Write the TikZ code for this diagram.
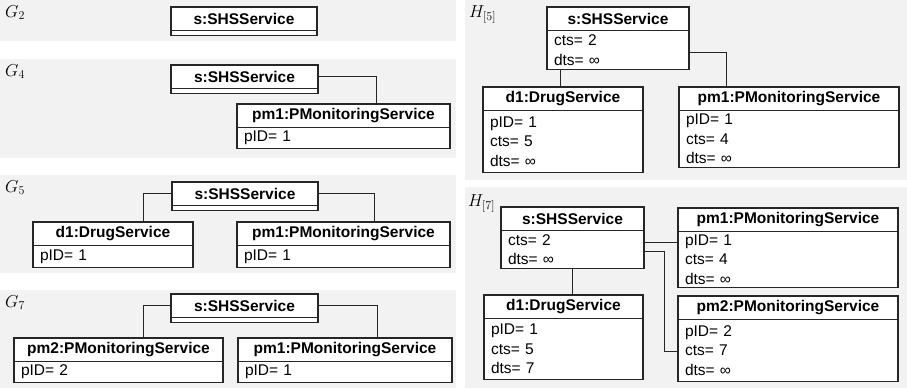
\documentclass[tikz,border=0pt]{standalone}
\usepackage{fontspec}
\setmainfont{Liberation Sans}
\definecolor{panelgray}{HTML}{F2F2F2}
\definecolor{linec}{HTML}{262626}
\tikzset{
  panel/.style={fill=panelgray, draw=none},
  objtitle/.style={draw=linec, fill=white, line width=1.1pt,
    font=\fontsize{15.5}{19.5}\selectfont\bfseries, minimum height=23.5pt,
    inner sep=0pt, outer sep=0pt, anchor=north west},
  objattr/.style={draw=linec, fill=white, line width=1.1pt,
    font=\fontsize{15.5}{19.5}\selectfont, inner xsep=7pt, inner ysep=0pt,
    outer sep=0pt, align=left, anchor=north west},
  conn/.style={draw=linec, line width=1pt},
  lbl/.style={anchor=north west, inner sep=0pt, font=\fontsize{17.28}{20}\selectfont}
}
% name, x, y, width, title, attr height, attrs
\newcommand\umlobj[7]{%
  \node[objtitle, minimum width=#4pt] (#1) at (#2,#3) {#5};
  \node[objattr, minimum width=#4pt, minimum height=#6pt, text width={\dimexpr #4pt-14pt\relax}] (#1-a) at (#1.south west) {#7};
}
\begin{document}
\begin{tikzpicture}[x=1pt,y=-1pt]
\useasboundingbox (0,0) rectangle (907,390);
% panels
\fill[panel] (0,0) rectangle (456,41);
\fill[panel] (0,59) rectangle (456,158);
\fill[panel] (0,175) rectangle (456,273);
\fill[panel] (0,290) rectangle (456,388);
\fill[panel] (465,0) rectangle (907,180);
\fill[panel] (465,187) rectangle (907,388);
% labels
\node[lbl] (lg2) at (5,5) {$G_2$};
\node[lbl] (lg4) at (5,64) {$G_4$};
\node[lbl] (lg5) at (5,180) {$G_5$};
\node[lbl] (lg7) at (5,295) {$G_7$};
\node[lbl] (lh5) at (469,5) {$H_{[5]}$};
\node[lbl] (lh7) at (468,194) {$H_{[7]}$};

\coordinate (g4j) at (376,0);
\coordinate (g5jl) at (143,0);
\coordinate (g5jr) at (374,0);
\coordinate (g7jl) at (143,0);
\coordinate (g7jr) at (377,0);
\coordinate (h5jd) at (560,0);
\coordinate (h5jr) at (726,53);
\coordinate (h7jd) at (572,0);
\coordinate (h7j1) at (600,242);
\coordinate (h7j2) at (664,251);
\coordinate (h7j3) at (664,351);

% G2
\umlobj{g2s}{171}{7}{146}{s:SHSService}{5}{}
% G4
\umlobj{g4s}{171}{65}{147}{s:SHSService}{5}{}
\umlobj{g4pm1}{237}{104}{213}{pm1:PMonitoringService}{21}{pID= 1}
% G5
\umlobj{g5s}{172}{182}{146}{s:SHSService}{5}{}
\umlobj{g5d1}{33}{222}{160}{d1:DrugService}{22}{pID= 1}
\umlobj{g5pm1}{237}{222}{213}{pm1:PMonitoringService}{22}{pID= 1}
% G7
\umlobj{g7s}{171}{294}{147}{s:SHSService}{5}{}
\umlobj{g7pm2}{14}{338}{209}{pm2:PMonitoringService}{21}{pID= 2}
\umlobj{g7pm1}{238}{338}{214}{pm1:PMonitoringService}{21}{pID= 1}
% H5
\umlobj{h5s}{547}{7}{142}{s:SHSService}{39}{cts= 2\\dts= ∞}
\umlobj{h5d1}{483}{87}{160}{d1:DrugService}{62}{pID= 1\\cts= 5\\dts= ∞}
\umlobj{h5pm1}{679}{87}{220}{pm1:PMonitoringService}{57}{pID= 1\\cts= 4\\dts= ∞}
% H7
\umlobj{h7s}{501}{207}{143}{s:SHSService}{38}{cts= 2\\dts= ∞}
\umlobj{h7d1}{484}{295}{159}{d1:DrugService}{61}{pID= 1\\cts= 5\\dts= 7}
\umlobj{h7pm1}{678}{208}{220}{pm1:PMonitoringService}{56}{pID= 1\\cts= 4\\dts= ∞}
\umlobj{h7pm2}{678}{296}{220}{pm2:PMonitoringService}{62}{pID= 2\\cts= 7\\dts= ∞}

% connectors
\draw[conn] (g4s.east) -| (g4pm1.north -| g4j);
\draw[conn] (g5s.west) -| (g5d1.north -| g5jl);
\draw[conn] (g5s.east) -| (g5pm1.north -| g5jr);
\draw[conn] (g7s.west) -| (g7pm2.north -| g7jl);
\draw[conn] (g7s.east) -| (g7pm1.north -| g7jr);
\draw[conn] (h5s-a.south -| h5jd) -- (h5d1.north -| h5jd);
\draw[conn] (h5s-a.east |- h5jr) -| (h5pm1.north -| h5jr);
\draw[conn] (h7s-a.south -| h7jd) -- (h7d1.north -| h7jd);
\draw[conn] (h7s-a.east |- h7j1) -- (h7pm1-a.west |- h7j1);
\draw[conn] (h7s-a.east |- h7j2) -- (h7j2) -- (h7j3) -- (h7pm2-a.west |- h7j3);
\end{tikzpicture}
\end{document}
